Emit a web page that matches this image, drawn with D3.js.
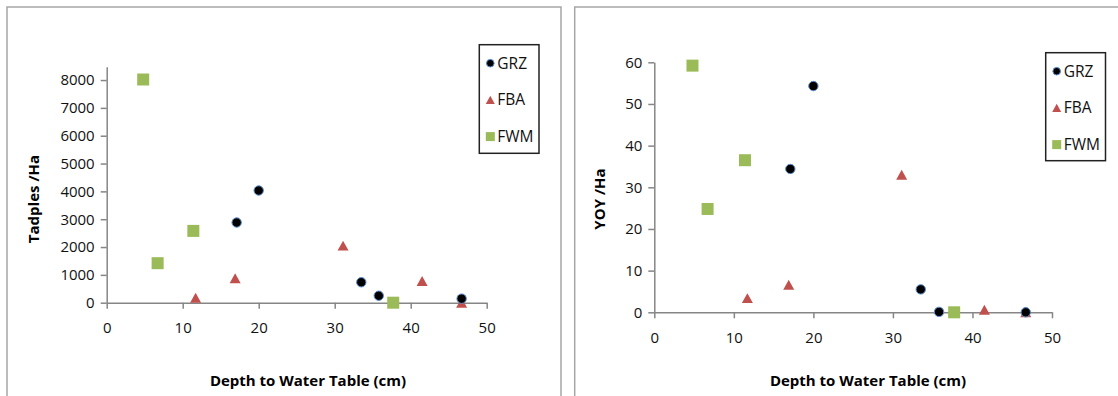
<html>
<head>
<script src="https://d3js.org/d3.v7.min.js"></script>
<style>
  body { margin: 0; background: #fff; }
  svg { font-family: "Open Sans", Lato, sans-serif; display: block; }
  .tick text { font-size: 15px; fill: #111; }
  .axis-title { font-size: 15px; font-weight: bold; fill: #000; }
  .legend text { font-size: 15.5px; fill: #111; }
</style>
</head>
<body>
<svg id="chart" width="1118" height="396"></svg>
<script>
// series names
const seriesNames = ["GRZ", "FBA", "FWM"];

// depth to water table (cm), shared by both panels
const depthGRZ = [17.1, 20.0, 33.5, 35.8, 46.7];
const depthFBA = [11.7, 16.9, 31.1, 41.5, 46.7];
const depthFWM = [4.8, 6.7, 11.4, 37.7];

// left panel: tadpoles per hectare
const tadpolesGRZ = [2880, 4030, 735, 250, 145];
const tadpolesFBA = [180, 880, 2050, 780, 0];
const tadpolesFWM = [8020, 1420, 2580, 0];

// right panel: young of year per hectare
const yoyGRZ = [34.4, 54.3, 5.5, 0.1, 0];
const yoyFBA = [3.4, 6.6, 33.0, 0.6, 0];
const yoyFWM = [59.2, 24.8, 36.5, 0];

const xTicks = [0, 10, 20, 30, 40, 50];
const tadpoleTicks = [0, 1000, 2000, 3000, 4000, 5000, 6000, 7000, 8000];
const yoyTicks = [0, 10, 20, 30, 40, 50, 60];

const svg = d3.select("#chart");

function triPath(w) {
  var h = w * 0.9;
  return "M0," + (-h / 2) + "L" + (w / 2) + "," + (h / 2) + "L" + (-w / 2) + "," + (h / 2) + "Z";
}

function drawMarker(g, type, big) {
  if (type == "GRZ") {
    g.append("circle").attr("r", big ? 4.7 : 3.8)
      .attr("fill", "#000").attr("stroke", "#5b8fd0").attr("stroke-width", 1);
  } else if (type == "FBA") {
    g.append("path").attr("d", triPath(big ? 11 : 9)).attr("fill", "#c0504d");
  } else {
    var s = big ? 12 : 9;
    g.append("rect").attr("x", -s / 2).attr("y", -s / 2).attr("width", s).attr("height", s)
      .attr("fill", "#9bbb59");
  }
}

function panel(opt) {
  // outer frame
  svg.append("rect")
    .attr("x", opt.frame[0]).attr("y", opt.frame[1])
    .attr("width", opt.frame[2]).attr("height", opt.frame[3])
    .attr("fill", "none").attr("stroke", "#a6a6a6").attr("stroke-width", 1.5);

  var x = d3.scaleLinear().domain([0, 50]).range(opt.xr);
  var y = d3.scaleLinear().domain(opt.yd).range(opt.yr);

  var xAxis = svg.append("g")
    .attr("transform", "translate(0," + opt.yr[0] + ")")
    .call(d3.axisBottom(x).tickValues(xTicks).tickSize(6).tickSizeOuter(0)
      .tickPadding(14).tickFormat(d3.format("d")));
  var yAxis = svg.append("g")
    .attr("transform", "translate(" + opt.xr[0] + ",0)")
    .call(d3.axisLeft(y).tickValues(opt.yTicks).tickSize(6).tickSizeOuter(0)
      .tickPadding(6).tickFormat(d3.format("d")));
  [xAxis, yAxis].forEach(function (a) {
    a.attr("font-family", null).attr("font-size", null);
    a.select(".domain").attr("stroke", "#868686").attr("stroke-width", 1.5);
    a.selectAll(".tick line").attr("stroke", "#868686").attr("stroke-width", 1.5);
  });

  var data = [];
  seriesNames.forEach(function (name, i) {
    opt.xs[i].forEach(function (d, j) {
      data.push({ name: name, x: d, y: opt.ys[i][j] });
    });
  });
  // draw FWM, FBA first so GRZ circles sit on top like the reference
  var order = { FWM: 0, FBA: 1, GRZ: 2 };
  data.sort(function (a, b) { return order[a.name] - order[b.name]; });
  svg.append("g").selectAll("g").data(data).enter().append("g")
    .attr("transform", d => "translate(" + x(d.x) + "," + y(d.y) + ")")
    .each(function (d) { drawMarker(d3.select(this), d.name, true); });

  svg.append("text").attr("class", "axis-title")
    .attr("text-anchor", "middle")
    .attr("x", opt.xTitle[0]).attr("y", opt.xTitle[1])
    .text("Depth to Water Table (cm)");
  svg.append("text").attr("class", "axis-title")
    .attr("text-anchor", "middle")
    .attr("transform", "translate(" + opt.yTitle[0] + "," + opt.yTitle[1] + ") rotate(-90)")
    .text(opt.yLabel);

  // legend
  var lg = svg.append("g").attr("class", "legend");
  lg.append("rect")
    .attr("x", opt.legend[0]).attr("y", opt.legend[1])
    .attr("width", opt.legend[2]).attr("height", opt.legend[3])
    .attr("fill", "#fff").attr("stroke", "#222").attr("stroke-width", 1.5);
  var item = lg.selectAll("g.item").data(seriesNames).enter().append("g")
    .attr("class", "item")
    .attr("transform", (d, i) => "translate(" + (opt.legend[0] + 11) + "," + (opt.legend[1] + 18.5 + i * 36.7) + ")");
  item.each(function (d) { drawMarker(d3.select(this), d, false); });
  item.append("text").attr("x", 7).attr("dy", "0.36em").text(d => d);
}

panel({
  frame: [7, 7, 554, 400],
  xr: [106.7, 486.7],
  yd: [0, 8480],
  yr: [302.7, 66.7],
  yTicks: tadpoleTicks,
  xs: [depthGRZ, depthFBA, depthFWM],
  ys: [tadpolesGRZ, tadpolesFBA, tadpolesFWM],
  xTitle: [308, 386],
  yTitle: [39, 199],
  yLabel: "Tadples /Ha",
  legend: [479.3, 44.7, 59.7, 108.6]
});

panel({
  frame: [574.7, 7, 560, 400],
  xr: [654.3, 1052],
  yd: [0, 60],
  yr: [312.3, 62.3],
  yTicks: yoyTicks,
  xs: [depthGRZ, depthFBA, depthFWM],
  ys: [yoyGRZ, yoyFBA, yoyFWM],
  xTitle: [868, 386],
  yTitle: [605, 199],
  yLabel: "YOY /Ha",
  legend: [1045.7, 52.7, 59.8, 108]
});
</script>
</body>
</html>
